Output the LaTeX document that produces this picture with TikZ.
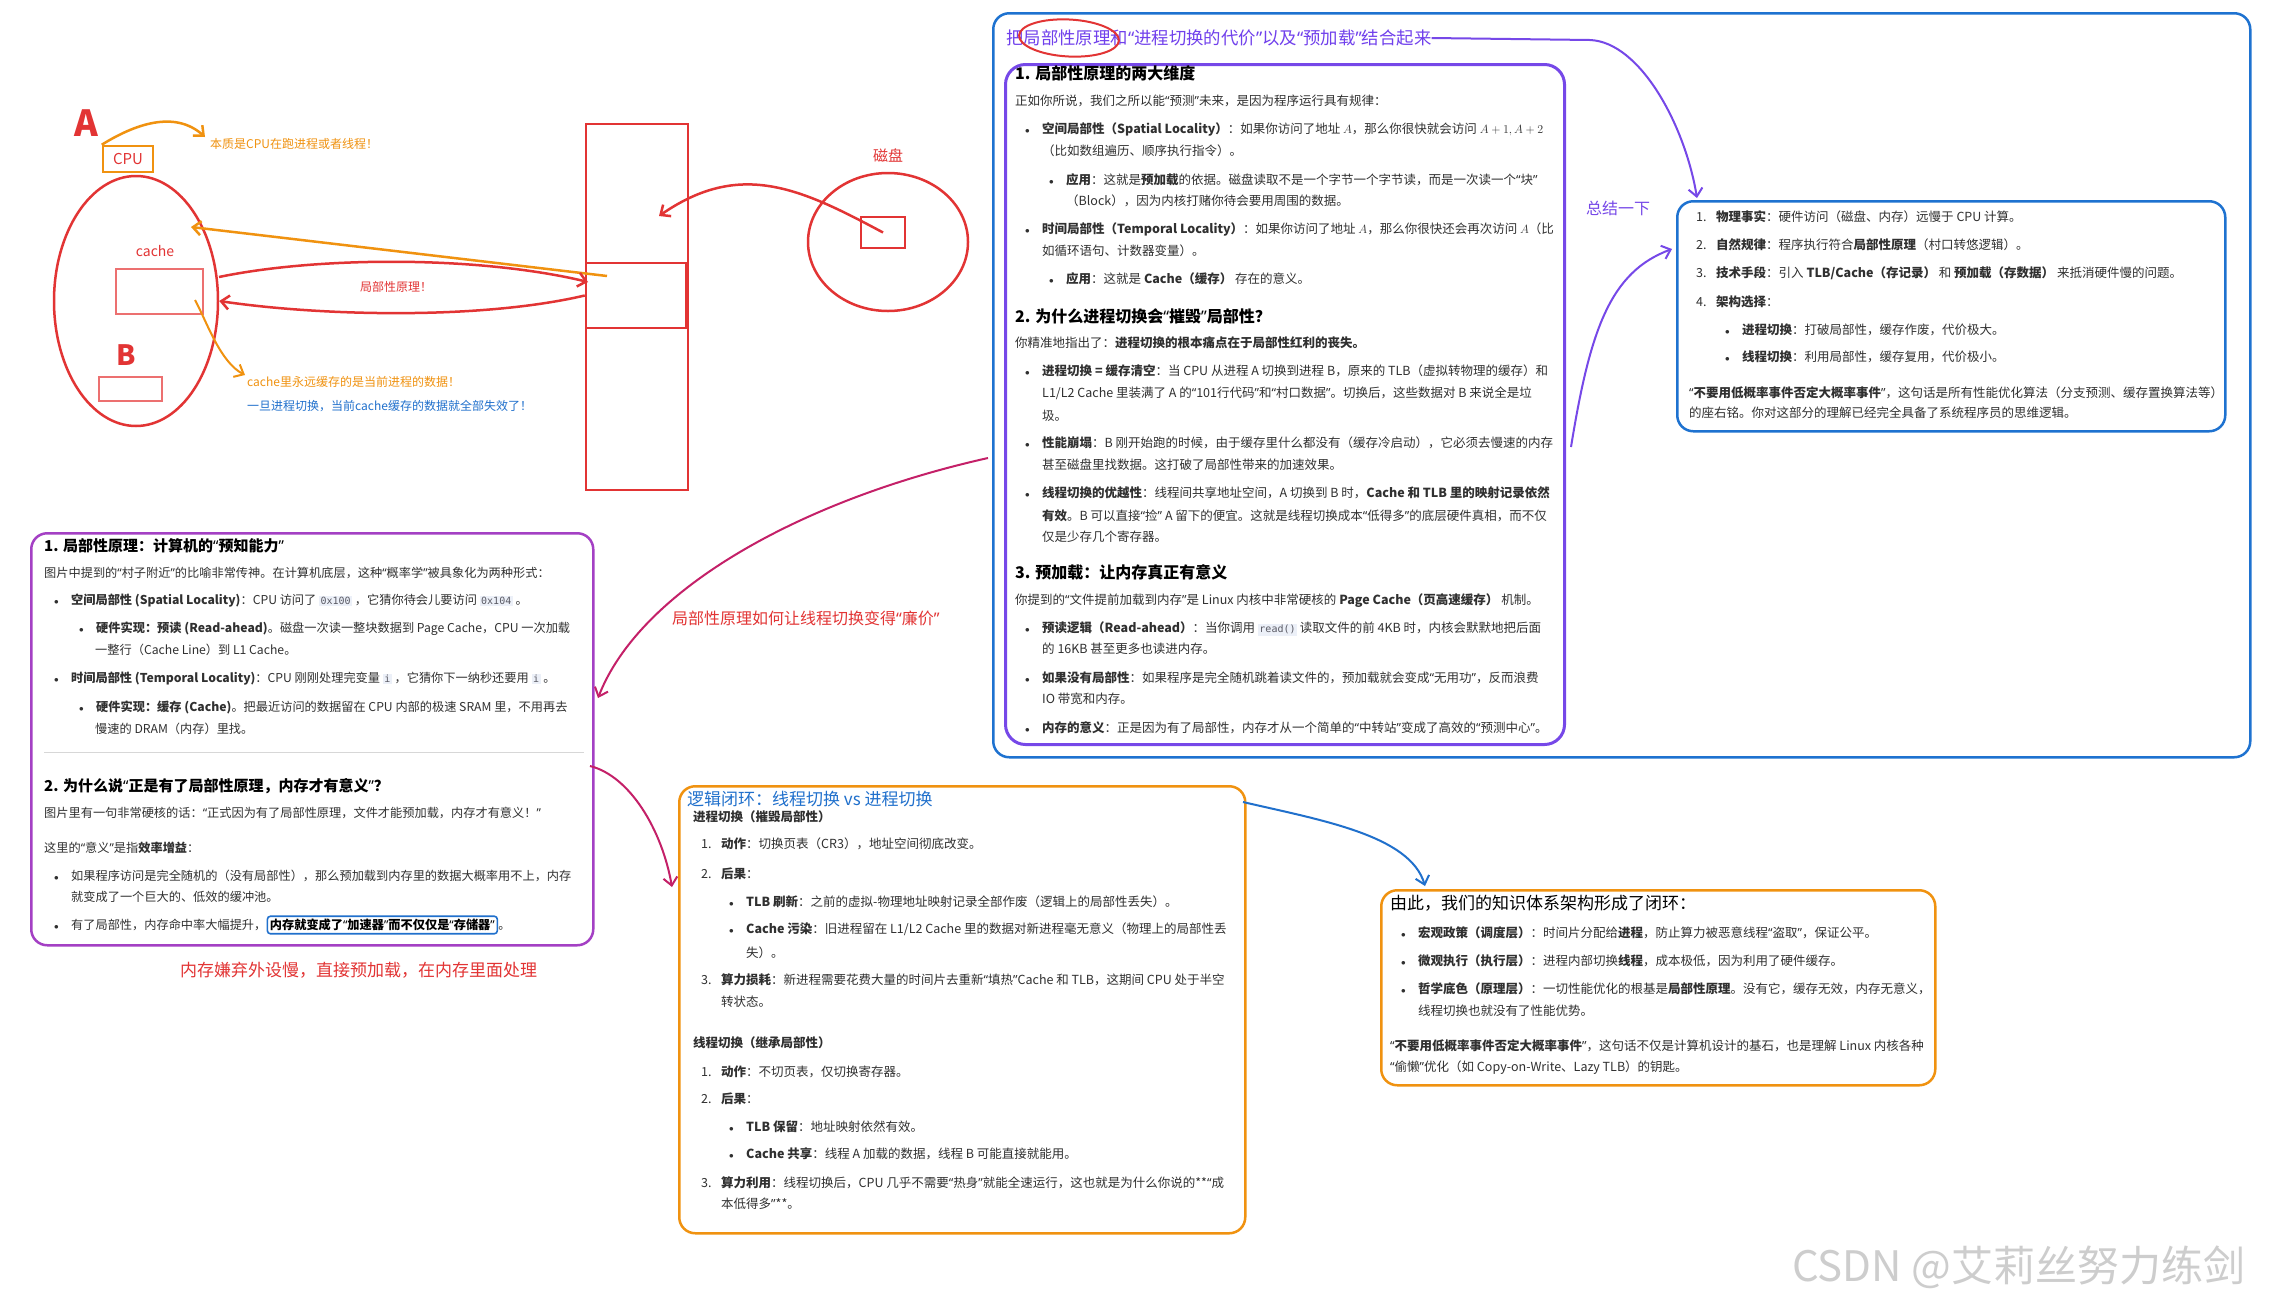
\documentclass[tikz,border=0pt]{standalone}
\usepackage{fontspec}
\setmainfont{Noto Sans CJK SC}
\setmonofont{DejaVu Sans Mono}
\newfontfamily\qfont{Noto Sans}
\usetikzlibrary{arrows.meta,shapes.geometric,calc}
\definecolor{sred}{RGB}{226,52,52}
\definecolor{sredl}{RGB}{236,112,112}
\definecolor{sorange}{RGB}{240,146,16}
\definecolor{sblue}{RGB}{32,112,204}
\definecolor{bigblue}{RGB}{30,114,208}
\definecolor{vio}{RGB}{118,72,232}
\definecolor{titlevio}{RGB}{112,64,236}
\definecolor{lpurple}{RGB}{164,64,196}
\definecolor{cmag}{RGB}{196,32,104}
\definecolor{txtgray}{RGB}{48,48,48}
\definecolor{codebg}{RGB}{236,240,248}
\definecolor{codefg}{RGB}{90,90,100}
\definecolor{rulegray}{RGB}{215,215,215}
\definecolor{wmgray}{RGB}{205,205,205}
\newcommand\mybul{\makebox[17pt][l]{$\scriptstyle\bullet$}}
\newcommand\mynum[1]{\makebox[20pt][l]{#1}}
\newcommand\mycode[1]{{\setlength{\fboxsep}{1.5pt}\colorbox{codebg}{\ttfamily\fontsize{10}{12}\selectfont\textcolor{codefg}{#1}}}}
\newcommand\oq{{\qfont “}}
\newcommand\cq{{\qfont ”}}
\tikzset{
 tx/.style={anchor=west, inner sep=0pt, text height=11pt, text depth=1.5pt, font=\fontsize{12.5}{15}\selectfont, text=txtgray},
 txl/.style={tx, font=\fontsize{12.2}{15}\selectfont},
 hd/.style={anchor=west, inner sep=0pt, text height=14pt, text depth=2pt, font=\fontsize{16}{19}\selectfont\bfseries, text=black},
 hdl/.style={hd, font=\fontsize{15}{18}\selectfont\bfseries},
 hw/.style={anchor=west, inner sep=0pt, font=\fontsize{12}{14}\selectfont},
 bx/.style={draw, anchor=north west, inner sep=0pt, rounded corners=16pt, line width=2.5pt},
 sk/.style={draw, inner sep=0pt, line width=2.5pt},
 arw/.style={-{Straight Barb[length=8pt,width=14pt]}, line width=2pt},
}
\begin{document}
\begin{tikzpicture}[x=1pt,y=-1pt]
\useasboundingbox (0,0) rectangle (2275,1307);
\fill[white] (0,0) rectangle (2275,1307);

% ---------------- boxes ----------------
\node[bx, draw=bigblue, minimum width=1257pt, minimum height=744pt] (bigbox) at (992,12) {};
\node[bx, draw=vio, line width=3pt, rounded corners=20pt, minimum width=559pt, minimum height=680pt] (vbox) at (1004,63) {};
\node[bx, draw=bigblue, minimum width=548pt, minimum height=230pt] (sumbox) at (1676,200) {};
\node[bx, draw=lpurple, minimum width=562pt, minimum height=412pt] (lbox) at (30,532) {};
\node[bx, draw=sorange, minimum width=566pt, minimum height=447pt] (mbox) at (678,785) {};
\node[bx, draw=sorange, minimum width=554pt, minimum height=195pt] (rbox) at (1380,889) {};

% ---------------- sketch ----------------
\node[sk, draw=sorange, minimum width=50pt, minimum height=26pt, text=sred, font=\fontsize{15}{15}\selectfont] (cpu) at (128,159) {CPU};
\node[text=sred, font=\fontsize{36}{36}\selectfont\bfseries, inner sep=0pt] (alabel) at (86,123) {A};
\node[ellipse, sk, draw=sred, minimum width=164pt, minimum height=250pt] (proc) at (136,301) {};
\node[text=sred, font=\fontsize{14}{14}\selectfont, inner sep=0pt] (cachelbl) at (155,251) {cache};
\node[sk, draw=sredl, line width=1.8pt, minimum width=87pt, minimum height=45pt] (cacherect) at (159.5,291.5) {};
\node[text=sred, font=\fontsize{28}{28}\selectfont\bfseries, inner sep=0pt] (blabel) at (126,355) {B};
\node[sk, draw=sredl, line width=1.8pt, minimum width=63pt, minimum height=24pt] (brect) at (130.5,389) {};
\node[sk, draw=sred, minimum width=102pt, minimum height=366pt] (mem) at (637,307) {};
\node[sk, draw=sred, minimum width=100pt, minimum height=65pt] (memmid) at (636,295.5) {};
\node[ellipse, sk, draw=sred, minimum width=160pt, minimum height=138pt] (disk) at (888,242) {};
\node[sk, draw=sred, minimum width=44pt, minimum height=31pt] (diskrect) at (883,232.5) {};
\node[text=sred, font=\fontsize{15}{15}\selectfont, inner sep=0pt] (disklbl) at (888,156) {磁盘};

\node[hw, text=sorange] (note1) at (210,144) {本质是CPU在跑进程或者线程！};
\node[text=sred, font=\fontsize{12}{14}\selectfont, inner sep=0pt] (loclbl) at (396,287) {局部性原理！};
\node[hw, text=sorange] (note2) at (247,382) {cache里永远缓存的是当前进程的数据！};
\node[hw, text=sblue] (note3) at (247,406) {一旦进程切换，当前cache缓存的数据就全部失效了！};

\coordinate (cpuend) at (205,137);
\draw[sorange, arw, line width=2.5pt] (cpu.north west) .. controls (135,124) and (175,110) .. (cpuend);
\coordinate (os) at (607,276);
\coordinate (oe) at (191,227);
\draw[sorange, arw, line width=2.5pt] (os) -- (oe);
\coordinate (rts) at (219,277);
\coordinate (rte) at (588,282);
\draw[sred, arw, line width=2.5pt] (rts) .. controls (320,256) and (480,256) .. (rte);
\draw[sred, arw, line width=2.5pt] (memmid.west) .. controls (480,320) and (320,316) .. (proc.east);
\coordinate (ocs) at (195,300);
\coordinate (oce) at (245,375);
\draw[sorange, arw] (ocs) .. controls (207,322) and (220,362) .. (oce);
\coordinate (dke) at (659,216);
\draw[sred, arw, line width=2.5pt] (diskrect.center) .. controls (800,188) and (740,160) .. (dke);

% ---------------- big box ----------------
\node[anchor=west, inner sep=0pt, text=titlevio, font=\fontsize{17.4}{19}\selectfont] (title) at (1006,38) {把局部性原理和\oq{}进程切换的代价\cq{}以及\oq{}预加载\cq{}结合起来};
\node[ellipse, draw=sred, line width=2pt, minimum width=100pt, minimum height=37pt, rotate=-3] (redell) at (1069,38) {};

\node[hd] (b1) at (1015,73) {1. 局部性原理的两大维度};
\node[tx] (b2) at (1015,101) {正如你所说，我们之所以能\oq{}预测\cq{}未来，是因为程序运行具有规律：};
\node[tx] (b3) at (1025,129) {\mybul\textbf{空间局部性（Spatial Locality）}：如果你访问了地址 $A$，那么你很快就会访问 $A+1, A+2$};
\node[tx] (b4) at (1042,151) {（比如数组遍历、顺序执行指令）。};
\node[tx] (b5) at (1049,180) {\mybul\textbf{应用}：这就是\textbf{预加载}的依据。磁盘读取不是一个字节一个字节读，而是一次读一个\oq{}块\cq{}};
\node[tx] (b6) at (1066,201) {（Block），因为内核打赌你待会要用周围的数据。};
\node[tx] (b7) at (1025,229) {\mybul\textbf{时间局部性（Temporal Locality）}：如果你访问了地址 $A$，那么你很快还会再次访问 $A$（比};
\node[tx] (b8) at (1042,251) {如循环语句、计数器变量）。};
\node[tx] (b9) at (1049,279) {\mybul\textbf{应用}：这就是 \textbf{Cache（缓存）} 存在的意义。};

\node[hd] (b10) at (1015,316) {2. 为什么进程切换会\oq{}摧毁\cq{}局部性？};
\node[tx] (b11) at (1015,343) {你精准地指出了：\textbf{进程切换的根本痛点在于局部性红利的丧失。}};
\node[tx] (b12) at (1025,371) {\mybul\textbf{进程切换 = 缓存清空}：当 CPU 从进程 A 切换到进程 B，原来的 TLB（虚拟转物理的缓存）和};
\node[tx] (b13) at (1042,393) {L1/L2 Cache 里装满了 A 的\oq{}101行代码\cq{}和\oq{}村口数据\cq{}。切换后，这些数据对 B 来说全是垃};
\node[tx] (b14) at (1042,416) {圾。};
\node[tx] (b15) at (1025,443) {\mybul\textbf{性能崩塌}：B 刚开始跑的时候，由于缓存里什么都没有（缓存冷启动），它必须去慢速的内存};
\node[tx] (b16) at (1042,465) {甚至磁盘里找数据。这打破了局部性带来的加速效果。};
\node[tx] (b17) at (1025,493) {\mybul\textbf{线程切换的优越性}：线程间共享地址空间，A 切换到 B 时，\textbf{Cache 和 TLB 里的映射记录依然}};
\node[tx] (b18) at (1042,516) {\textbf{有效}。B 可以直接\oq{}捡\cq{} A 留下的便宜。这就是线程切换成本\oq{}低得多\cq{}的底层硬件真相，而不仅};
\node[tx] (b19) at (1042,537) {仅是少存几个寄存器。};

\node[hd] (b20) at (1015,572) {3. 预加载：让内存真正有意义};
\node[tx] (b21) at (1015,600) {你提到的\oq{}文件提前加载到内存\cq{}是 Linux 内核中非常硬核的 \textbf{Page Cache（页高速缓存）} 机制。};
\node[tx] (b22) at (1025,628) {\mybul\textbf{预读逻辑（Read-ahead）}：当你调用 \mycode{read()} 读取文件的前 4KB 时，内核会默默地把后面};
\node[tx] (b23) at (1042,649) {的 16KB 甚至更多也读进内存。};
\node[tx] (b24) at (1025,678) {\mybul\textbf{如果没有局部性}：如果程序是完全随机跳着读文件的，预加载就会变成\oq{}无用功\cq{}，反而浪费};
\node[tx] (b25) at (1042,699) {IO 带宽和内存。};
\node[tx] (b26) at (1025,728) {\mybul\textbf{内存的意义}：正是因为有了局部性，内存才从一个简单的\oq{}中转站\cq{}变成了高效的\oq{}预测中心\cq{}。};

% ---------------- summary box ----------------
\node[anchor=west, inner sep=0pt, text=vio, font=\fontsize{16}{18}\selectfont] (sumlbl) at (1586,208) {总结一下};
\node[tx] (s1) at (1696,217) {\mynum{1.}\textbf{物理事实}：硬件访问（磁盘、内存）远慢于 CPU 计算。};
\node[tx] (s2) at (1696,245) {\mynum{2.}\textbf{自然规律}：程序执行符合\textbf{局部性原理}（村口转悠逻辑）。};
\node[tx] (s3) at (1696,273) {\mynum{3.}\textbf{技术手段}：引入 \textbf{TLB/Cache（存记录）} 和 \textbf{预加载（存数据）} 来抵消硬件慢的问题。};
\node[tx] (s4) at (1696,302) {\mynum{4.}\textbf{架构选择}：};
\node[tx] (s5) at (1725,330) {\mybul\textbf{进程切换}：打破局部性，缓存作废，代价极大。};
\node[tx] (s6) at (1725,357) {\mybul\textbf{线程切换}：利用局部性，缓存复用，代价极小。};
\node[tx] (s7) at (1689,393) {\textbf{\oq{}不要用低概率事件否定大概率事件\cq{}}，这句话是所有性能优化算法（分支预测、缓存置换算法等）};
\node[tx] (s8) at (1689,413) {的座右铭。你对这部分的理解已经完全具备了系统程序员的思维逻辑。};

\coordinate (tl1) at (1590,40);
\coordinate (tl2) at (1697,198);
\draw[vio, arw] (title.east) -- (tl1) .. controls (1640,42) and (1685,125) .. (tl2);
\coordinate (pa1) at (1571,447);
\coordinate (pa2) at (1672,249);
\draw[vio, arw] (pa1) .. controls (1590,330) and (1610,272) .. (pa2);

% ---------------- left purple box ----------------
\node[hdl] (p1) at (44,545) {1. 局部性原理：计算机的\oq{}预知能力\cq{}};
\node[txl] (p2) at (44,573) {图片中提到的\oq{}村子附近\cq{}的比喻非常传神。在计算机底层，这种\oq{}概率学\cq{}被具象化为两种形式：};
\node[txl] (p3) at (54,600) {\mybul\textbf{空间局部性 (Spatial Locality)}：CPU 访问了 \mycode{0x100} ，它猜你待会儿要访问 \mycode{0x104} 。};
\node[txl] (p4) at (79,628) {\mybul\textbf{硬件实现：预读 (Read-ahead)}。磁盘一次读一整块数据到 Page Cache，CPU 一次加载};
\node[txl] (p5) at (95,650) {一整行（Cache Line）到 L1 Cache。};
\node[txl] (p6) at (54,678) {\mybul\textbf{时间局部性 (Temporal Locality)}：CPU 刚刚处理完变量 \mycode{i} ，它猜你下一纳秒还要用 \mycode{i} 。};
\node[txl] (p7) at (79,707) {\mybul\textbf{硬件实现：缓存 (Cache)}。把最近访问的数据留在 CPU 内部的极速 SRAM 里，不用再去};
\node[txl] (p8) at (95,729) {慢速的 DRAM（内存）里找。};
\coordinate (rl1) at (44,752);
\coordinate (rl2) at (584,752);
\draw[rulegray, line width=1pt] (rl1) -- (rl2);
\node[hdl] (p9) at (44,785) {2. 为什么说\oq{}正是有了局部性原理，内存才有意义\cq{}？};
\node[txl] (p10) at (44,813) {图片里有一句非常硬核的话：\oq{}正式因为有了局部性原理，文件才能预加载，内存才有意义！\cq{}};
\node[txl] (p11) at (44,848) {这里的\oq{}意义\cq{}是指\textbf{效率增益}：};
\node[txl] (p12) at (54,876) {\mybul 如果程序访问是完全随机的（没有局部性），那么预加载到内存里的数据大概率用不上，内存};
\node[txl] (p13) at (71,897) {就变成了一个巨大的、低效的缓冲池。};
\node[txl] (p14) at (54,925) {\mybul 有了局部性，内存命中率大幅提升，};
\node[txl, draw=sblue, line width=1.6pt, rounded corners=3pt, inner sep=2.5pt, text=black] (hl) at (p14.east) {\textbf{内存就变成了\oq{}加速器\cq{}而不仅仅是\oq{}存储器\cq{}}};
\node[txl] (p15) at (hl.east) {。};
\node[anchor=west, inner sep=0pt, text=sred, font=\fontsize{17}{19}\selectfont] (rednote) at (180,970) {内存嫌弃外设慢，直接预加载，在内存里面处理};

% magenta connectors
\coordinate (mg1) at (988,458);
\coordinate (mg2) at (598,698);
\draw[cmag, arw] (mg1) .. controls (800,500) and (640,590) .. (mg2);
\node[anchor=west, inner sep=0pt, text=sred, font=\fontsize{16}{18}\selectfont] (maglbl) at (672,618) {局部性原理如何让线程切换变得\oq{}廉价\cq{}};
\coordinate (mh1) at (590,766);
\coordinate (mh2) at (672,887);
\draw[cmag, arw] (mh1) .. controls (630,776) and (662,830) .. (mh2);

% ---------------- middle orange box ----------------
\node[anchor=west, inner sep=0pt, text=sblue, font=\fontsize{17}{19}\selectfont] (m0) at (687,799) {逻辑闭环：线程切换 vs 进程切换};
\node[tx] (m1) at (693,817) {\textbf{进程切换（摧毁局部性）}};
\node[tx] (m2) at (701,844) {\mynum{1.}\textbf{动作}：切换页表（CR3），地址空间彻底改变。};
\node[tx] (m3) at (701,874) {\mynum{2.}\textbf{后果}：};
\node[tx] (m4) at (729,902) {\mybul\textbf{TLB 刷新}：之前的虚拟-物理地址映射记录全部作废（逻辑上的局部性丢失）。};
\node[tx] (m5) at (729,929) {\mybul\textbf{Cache 污染}：旧进程留在 L1/L2 Cache 里的数据对新进程毫无意义（物理上的局部性丢};
\node[tx] (m6) at (746,953) {失）。};
\node[tx] (m7) at (701,980) {\mynum{3.}\textbf{算力损耗}：新进程需要花费大量的时间片去重新\oq{}填热\cq{}Cache 和 TLB，这期间 CPU 处于半空};
\node[tx] (m8) at (721,1002) {转状态。};
\node[tx] (m9) at (693,1043) {\textbf{线程切换（继承局部性）}};
\node[tx] (m10) at (701,1072) {\mynum{1.}\textbf{动作}：不切页表，仅切换寄存器。};
\node[tx] (m11) at (701,1099) {\mynum{2.}\textbf{后果}：};
\node[tx] (m12) at (729,1127) {\mybul\textbf{TLB 保留}：地址映射依然有效。};
\node[tx] (m13) at (729,1154) {\mybul\textbf{Cache 共享}：线程 A 加载的数据，线程 B 可能直接就能用。};
\node[tx] (m14) at (701,1183) {\mynum{3.}\textbf{算力利用}：线程切换后，CPU 几乎不需要\oq{}热身\cq{}就能全速运行，这也就是为什么你说的**\oq{}成};
\node[tx] (m15) at (721,1204) {本低得多\cq{}**。};

\coordinate (bl1) at (1243,802);
\coordinate (bl2) at (1425,886);
\draw[sblue, arw] (bl1) .. controls (1320,820) and (1410,835) .. (bl2);

% ---------------- right orange box ----------------
\node[anchor=west, inner sep=0pt, text=black, font=\fontsize{17}{19}\selectfont] (r0) at (1390,903) {由此，我们的知识体系架构形成了闭环：};
\node[tx] (r1) at (1401,933) {\mybul\textbf{宏观政策（调度层）}：时间片分配给\textbf{进程}，防止算力被恶意线程\oq{}盗取\cq{}，保证公平。};
\node[tx] (r2) at (1401,961) {\mybul\textbf{微观执行（执行层）}：进程内部切换\textbf{线程}，成本极低，因为利用了硬件缓存。};
\node[tx] (r3) at (1401,989) {\mybul\textbf{哲学底色（原理层）}：一切性能优化的根基是\textbf{局部性原理}。没有它，缓存无效，内存无意义，};
\node[tx] (r4) at (1418,1011) {线程切换也就没有了性能优势。};
\node[tx] (r5) at (1390,1046) {\textbf{\oq{}不要用低概率事件否定大概率事件\cq{}}，这句话不仅是计算机设计的基石，也是理解 Linux 内核各种};
\node[tx] (r6) at (1390,1067) {\oq{}偷懒\cq{}优化（如 Copy-on-Write、Lazy TLB）的钥匙。};

% watermark
\node[anchor=west, inner sep=0pt, text=wmgray, font=\fontsize{42}{44}\selectfont] (wm) at (1792,1267) {CSDN @艾莉丝努力练剑};
\end{tikzpicture}
\end{document}
